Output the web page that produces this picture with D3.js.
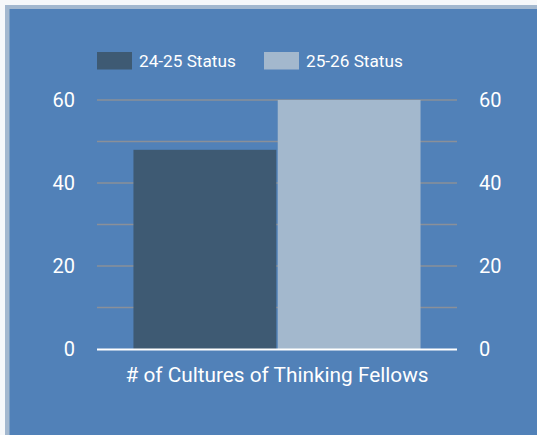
<!DOCTYPE html>
<html lang="en">
<head>
  <meta charset="UTF-8">
  <title>Cultures of Thinking Fellows</title>
  <script src="https://d3js.org/d3.v7.min.js"></script>
  <style>
    body {
      margin: 0;
      background-color: #f6f8fa;
      font-family: 'Roboto', sans-serif;
    }
    #chart {
      position: absolute;
      left: 5px;
      top: 5px;
    }
    text {
      fill: #ffffff;
    }
  </style>
</head>
<body>
  <div id="chart"></div>

  <script>
    // chart data
    const categories = ["# of Cultures of Thinking Fellows"];
    const seriesNames = ["24-25 Status", "25-26 Status"];
    const seriesValues = [[48], [60]];
    const seriesColors = ["#3e5a73", "#a3b8cd"];
    const yTicks = [0, 20, 40, 60];
    const yMinor = [10, 30, 50];

    const W = 532, H = 430;
    const svg = d3.select("#chart")
      .append("svg")
      .attr("width", W)
      .attr("height", H);

    // panel with light border
    svg.append("rect")
      .attr("width", W).attr("height", H)
      .attr("fill", "#a3b8cf");
    svg.append("rect")
      .attr("x", 4.5).attr("y", 4)
      .attr("width", W).attr("height", H)
      .attr("fill", "#5181b8");

    const plot = { left: 92, right: 452, top: 95, bottom: 344 };

    const y = d3.scaleLinear()
      .domain([0, 60])
      .range([plot.bottom, plot.top]);

    const x0 = d3.scaleBand()
      .domain(categories)
      .range([plot.left, plot.right])
      .paddingInner(0)
      .paddingOuter(0.127);

    const x1 = d3.scaleBand()
      .domain(seriesNames)
      .range([0, x0.bandwidth()])
      .paddingInner(0.01);

    // grid lines
    svg.append("g")
      .selectAll("line")
      .data(yTicks.concat(yMinor).filter(d => d > 0))
      .join("line")
      .attr("x1", plot.left)
      .attr("x2", plot.right)
      .attr("y1", d => y(d))
      .attr("y2", d => y(d))
      .attr("stroke", "#8a9099")
      .attr("stroke-width", 1.5);

    // bars
    const groups = svg.append("g")
      .selectAll("g")
      .data(categories)
      .join("g")
      .attr("transform", d => `translate(${x0(d)},0)`);

    groups.selectAll("rect")
      .data((d, ci) => seriesNames.map((s, si) => ({ s, v: seriesValues[si][ci], c: seriesColors[si] })))
      .join("rect")
      .attr("x", d => x1(d.s))
      .attr("y", d => y(d.v))
      .attr("width", x1.bandwidth())
      .attr("height", d => y(0) - y(d.v))
      .attr("fill", d => d.c);

    // baseline
    svg.append("line")
      .attr("x1", plot.left)
      .attr("x2", plot.right)
      .attr("y1", y(0) + 0.5)
      .attr("y2", y(0) + 0.5)
      .attr("stroke", "#ffffff")
      .attr("stroke-width", 2);

    // left and right axis labels
    const axisLeft = d3.axisLeft(y).tickValues(yTicks).tickSize(0).tickPadding(22);
    const axisRight = d3.axisRight(y).tickValues(yTicks).tickSize(0).tickPadding(22);

    [svg.append("g").attr("transform", `translate(${plot.left},0)`).call(axisLeft),
     svg.append("g").attr("transform", `translate(${plot.right},0)`).call(axisRight)]
      .forEach(g => {
        g.select(".domain").remove();
        g.selectAll("text")
          .attr("fill", "#ffffff")
          .style("font-family", "Roboto, sans-serif")
          .style("font-size", "20px");
      });

    // category label
    svg.append("text")
      .attr("x", x0(categories[0]) + x0.bandwidth() / 2)
      .attr("y", 377)
      .attr("text-anchor", "middle")
      .style("font-size", "20.8px")
      .text(categories[0]);

    // legend
    const legend = svg.append("g")
      .selectAll("g")
      .data(seriesNames)
      .join("g")
      .attr("transform", (d, i) => `translate(${92 + i * 167},47)`);

    legend.append("rect")
      .attr("width", 35)
      .attr("height", 17.5)
      .attr("fill", (d, i) => seriesColors[i]);

    legend.append("text")
      .attr("x", 42)
      .attr("y", 15)
      .style("font-size", "17.2px")
      .text(d => d);
  </script>
</body>
</html>
